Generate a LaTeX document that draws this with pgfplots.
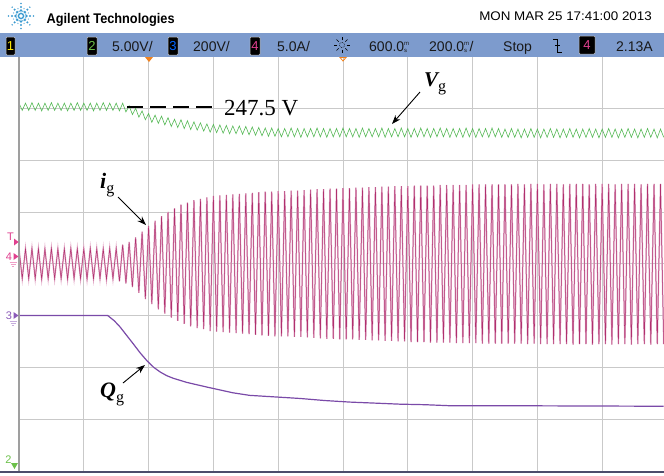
\documentclass[border=0pt]{standalone}
\usepackage{pgfplots}
\pgfplotsset{compat=1.18}
\usepackage{pgfplotstable}
\usepackage{graphicx}
\usepackage{fontspec}
\usetikzlibrary{arrows.meta}
\setmainfont{Liberation Sans}
\newfontfamily\serif{Liberation Serif}

\definecolor{barblue}{HTML}{7D9BCD}
\definecolor{vgreen}{HTML}{55B855}
\definecolor{imag}{HTML}{B0306E}
\definecolor{ipink}{HTML}{E4AECA}
\definecolor{qpurple}{HTML}{7A4AA8}
\definecolor{gridgray}{HTML}{C9C9C9}
\definecolor{trigorange}{HTML}{F0821E}
\definecolor{logoblue}{HTML}{3A9AD0}
\definecolor{markpink}{HTML}{E0408F}
\definecolor{markpurple}{HTML}{8A5AB8}
\definecolor{markgreen}{HTML}{6CC04A}

% channel 2: grid voltage (div)
\pgfplotstableread[row sep=\\]{
x y\\
0.00 7.10\\ 0.05 6.96\\ 0.10 7.10\\ 0.15 6.96\\ 0.20 7.11\\ 0.25 6.96\\ 0.30 7.10\\ 0.35 6.95\\ 0.40 7.10\\ 0.45 6.96\\
0.50 7.11\\ 0.55 6.96\\ 0.60 7.10\\ 0.65 6.96\\ 0.70 7.10\\ 0.75 6.95\\ 0.80 7.10\\ 0.85 6.96\\ 0.90 7.11\\ 0.95 6.96\\
1.00 7.10\\ 1.05 6.96\\ 1.10 7.10\\ 1.15 6.95\\ 1.20 7.10\\ 1.25 6.96\\ 1.30 7.11\\ 1.35 6.96\\ 1.40 7.10\\ 1.45 6.96\\
1.50 7.10\\ 1.55 6.95\\ 1.60 7.10\\ 1.65 6.93\\ 1.70 7.05\\ 1.75 6.88\\ 1.80 7.00\\ 1.85 6.83\\ 1.90 6.95\\ 1.95 6.78\\
2.00 6.90\\ 2.05 6.73\\ 2.10 6.87\\ 2.15 6.71\\ 2.20 6.85\\ 2.25 6.68\\ 2.30 6.82\\ 2.35 6.65\\ 2.40 6.79\\ 2.45 6.63\\
2.50 6.78\\ 2.55 6.61\\ 2.60 6.76\\ 2.65 6.59\\ 2.70 6.74\\ 2.75 6.58\\ 2.80 6.72\\ 2.85 6.56\\ 2.90 6.70\\ 2.95 6.54\\
3.00 6.69\\ 3.05 6.53\\ 3.10 6.68\\ 3.15 6.52\\ 3.20 6.67\\ 3.25 6.51\\ 3.30 6.66\\ 3.35 6.51\\ 3.40 6.66\\ 3.45 6.50\\
3.50 6.65\\ 3.55 6.49\\ 3.60 6.64\\ 3.65 6.48\\ 3.70 6.63\\ 3.75 6.47\\ 3.80 6.62\\ 3.85 6.46\\ 3.90 6.62\\ 3.95 6.46\\
4.00 6.61\\ 4.05 6.45\\ 4.10 6.61\\ 4.15 6.45\\ 4.20 6.62\\ 4.25 6.45\\ 4.30 6.61\\ 4.35 6.44\\ 4.40 6.61\\ 4.45 6.45\\
4.50 6.61\\ 4.55 6.45\\ 4.60 6.62\\ 4.65 6.45\\ 4.70 6.61\\ 4.75 6.44\\ 4.80 6.61\\ 4.85 6.45\\ 4.90 6.61\\ 4.95 6.45\\
5.00 6.62\\ 5.05 6.45\\ 5.10 6.61\\ 5.15 6.45\\ 5.20 6.61\\ 5.25 6.44\\ 5.30 6.62\\ 5.35 6.45\\ 5.40 6.61\\ 5.45 6.45\\
5.50 6.61\\ 5.55 6.45\\ 5.60 6.62\\ 5.65 6.44\\ 5.70 6.61\\ 5.75 6.45\\ 5.80 6.61\\ 5.85 6.45\\ 5.90 6.62\\ 5.95 6.45\\
6.00 6.61\\ 6.05 6.44\\ 6.10 6.61\\ 6.15 6.45\\ 6.20 6.62\\ 6.25 6.45\\ 6.30 6.61\\ 6.35 6.44\\ 6.40 6.61\\ 6.45 6.45\\
6.50 6.62\\ 6.55 6.45\\ 6.60 6.61\\ 6.65 6.44\\ 6.70 6.61\\ 6.75 6.45\\ 6.80 6.61\\ 6.85 6.44\\ 6.90 6.62\\ 6.95 6.45\\
7.00 6.61\\ 7.05 6.44\\ 7.10 6.61\\ 7.15 6.45\\ 7.20 6.61\\ 7.25 6.44\\ 7.30 6.62\\ 7.35 6.45\\ 7.40 6.61\\ 7.45 6.44\\
7.50 6.60\\ 7.55 6.44\\ 7.60 6.61\\ 7.65 6.44\\ 7.70 6.60\\ 7.75 6.43\\ 7.80 6.60\\ 7.85 6.44\\ 7.90 6.61\\ 7.95 6.44\\
8.00 6.60\\ 8.05 6.43\\ 8.10 6.60\\ 8.15 6.44\\ 8.20 6.61\\ 8.25 6.44\\ 8.30 6.60\\ 8.35 6.43\\ 8.40 6.60\\ 8.45 6.44\\
8.50 6.61\\ 8.55 6.44\\ 8.60 6.60\\ 8.65 6.43\\ 8.70 6.60\\ 8.75 6.44\\ 8.80 6.61\\ 8.85 6.44\\ 8.90 6.60\\ 8.95 6.43\\
9.00 6.60\\ 9.05 6.44\\ 9.10 6.61\\ 9.15 6.44\\ 9.20 6.60\\ 9.25 6.43\\ 9.30 6.60\\ 9.35 6.44\\ 9.40 6.61\\ 9.45 6.44\\
9.50 6.60\\ 9.55 6.43\\ 9.60 6.60\\ 9.65 6.44\\ 9.70 6.61\\ 9.75 6.44\\ 9.80 6.60\\ 9.85 6.43\\ 9.90 6.60\\ 9.95 6.44\\
}\vgdata

% channel 4: grid current (div)
\pgfplotstableread[row sep=\\]{
x y\\
0.00 4.29\\ 0.05 3.71\\ 0.10 4.29\\ 0.15 3.71\\ 0.20 4.30\\ 0.25 3.71\\ 0.30 4.29\\ 0.35 3.70\\ 0.40 4.29\\ 0.45 3.71\\
0.50 4.30\\ 0.55 3.71\\ 0.60 4.29\\ 0.65 3.71\\ 0.70 4.29\\ 0.75 3.70\\ 0.80 4.30\\ 0.85 3.71\\ 0.90 4.29\\ 0.95 3.71\\
1.00 4.29\\ 1.05 3.70\\ 1.10 4.30\\ 1.15 3.71\\ 1.20 4.29\\ 1.25 3.71\\ 1.30 4.29\\ 1.35 3.70\\ 1.40 4.30\\ 1.45 3.71\\
1.50 4.30\\ 1.55 3.66\\ 1.60 4.37\\ 1.65 3.62\\ 1.70 4.42\\ 1.75 3.55\\ 1.80 4.51\\ 1.85 3.44\\ 1.90 4.62\\ 1.95 3.32\\
2.00 4.73\\ 2.05 3.22\\ 2.10 4.83\\ 2.15 3.12\\ 2.20 4.92\\ 2.25 3.04\\ 2.30 5.00\\ 2.35 2.96\\ 2.40 5.07\\ 2.45 2.90\\
2.50 5.14\\ 2.55 2.84\\ 2.60 5.18\\ 2.65 2.79\\ 2.70 5.23\\ 2.75 2.76\\ 2.80 5.25\\ 2.85 2.74\\ 2.90 5.28\\ 2.95 2.70\\
3.00 5.31\\ 3.05 2.69\\ 3.10 5.32\\ 3.15 2.68\\ 3.20 5.33\\ 3.25 2.67\\ 3.30 5.34\\ 3.35 2.66\\ 3.40 5.35\\ 3.45 2.65\\
3.50 5.36\\ 3.55 2.64\\ 3.60 5.37\\ 3.65 2.63\\ 3.70 5.38\\ 3.75 2.62\\ 3.80 5.39\\ 3.85 2.61\\ 3.90 5.39\\ 3.95 2.60\\
4.00 5.40\\ 4.05 2.60\\ 4.10 5.40\\ 4.15 2.60\\ 4.20 5.41\\ 4.25 2.59\\ 4.30 5.41\\ 4.35 2.59\\ 4.40 5.42\\ 4.45 2.58\\
4.50 5.43\\ 4.55 2.57\\ 4.60 5.44\\ 4.65 2.56\\ 4.70 5.44\\ 4.75 2.55\\ 4.80 5.45\\ 4.85 2.55\\ 4.90 5.45\\ 4.95 2.54\\
5.00 5.46\\ 5.05 2.54\\ 5.10 5.46\\ 5.15 2.54\\ 5.20 5.47\\ 5.25 2.53\\ 5.30 5.47\\ 5.35 2.53\\ 5.40 5.48\\ 5.45 2.52\\
5.50 5.48\\ 5.55 2.52\\ 5.60 5.49\\ 5.65 2.51\\ 5.70 5.49\\ 5.75 2.51\\ 5.80 5.50\\ 5.85 2.50\\ 5.90 5.50\\ 5.95 2.50\\
6.00 5.50\\ 6.05 2.49\\ 6.10 5.51\\ 6.15 2.49\\ 6.20 5.51\\ 6.25 2.49\\ 6.30 5.51\\ 6.35 2.48\\ 6.40 5.51\\ 6.45 2.48\\
6.50 5.52\\ 6.55 2.48\\ 6.60 5.52\\ 6.65 2.48\\ 6.70 5.52\\ 6.75 2.47\\ 6.80 5.52\\ 6.85 2.47\\ 6.90 5.52\\ 6.95 2.47\\
7.00 5.53\\ 7.05 2.47\\ 7.10 5.53\\ 7.15 2.46\\ 7.20 5.53\\ 7.25 2.46\\ 7.30 5.53\\ 7.35 2.46\\ 7.40 5.53\\ 7.45 2.46\\
7.50 5.53\\ 7.55 2.46\\ 7.60 5.53\\ 7.65 2.46\\ 7.70 5.54\\ 7.75 2.46\\ 7.80 5.53\\ 7.85 2.45\\ 7.90 5.54\\ 7.95 2.46\\
8.00 5.54\\ 8.05 2.45\\ 8.10 5.53\\ 8.15 2.45\\ 8.20 5.54\\ 8.25 2.45\\ 8.30 5.54\\ 8.35 2.45\\ 8.40 5.53\\ 8.45 2.45\\
8.50 5.54\\ 8.55 2.44\\ 8.60 5.54\\ 8.65 2.45\\ 8.70 5.54\\ 8.75 2.45\\ 8.80 5.53\\ 8.85 2.44\\ 8.90 5.54\\ 8.95 2.45\\
9.00 5.54\\ 9.05 2.45\\ 9.10 5.54\\ 9.15 2.44\\ 9.20 5.53\\ 9.25 2.45\\ 9.30 5.54\\ 9.35 2.45\\ 9.40 5.54\\ 9.45 2.44\\
9.50 5.54\\ 9.55 2.45\\ 9.60 5.53\\ 9.65 2.45\\ 9.70 5.54\\ 9.75 2.44\\ 9.80 5.54\\ 9.85 2.45\\ 9.90 5.54\\ 9.95 2.45\\
}\igdata

% channel 3: reactive power (div)
\pgfplotstableread[row sep=\\]{
x y\\
0.00 3.00\\ 1.37 3.00\\ 1.47 2.90\\ 1.56 2.78\\ 1.66 2.62\\ 1.76 2.46\\ 1.87 2.28\\ 1.98 2.12\\ 2.08 2.00\\ 2.18 1.91\\
2.28 1.84\\ 2.38 1.79\\ 2.59 1.71\\ 2.90 1.62\\ 3.30 1.51\\ 3.56 1.46\\ 3.95 1.43\\ 4.34 1.40\\ 4.72 1.36\\ 5.11 1.33\\
5.50 1.31\\ 5.88 1.29\\ 6.26 1.28\\ 6.65 1.26\\ 7.50 1.26\\ 9.95 1.25\\
}\qgdata

\tikzset{
  bartext/.style={anchor=base west, inner sep=0pt, text=black!90, font=\fontsize{14}{16}\selectfont},
  chbox/.style={draw=gray!45, fill=black, rounded corners=1pt, line width=0.5pt},
}
% stacked "ms" unit as shown in the status bar
\newcommand{\unitms}{{\fontsize{6}{6}\selectfont\rlap{\raisebox{5.8pt}{m}}\raisebox{-1.2pt}{s}\hspace{2.4pt}}}

\begin{document}
\begin{tikzpicture}
\useasboundingbox (0pt,0pt) rectangle (664pt,-475pt);

\begin{axis}[
  at={(19pt,-471pt)}, anchor=south west,
  scale only axis, width=645pt, height=414.5pt,
  xmin=0, xmax=9.954, ymin=0, ymax=8,
  xtick={1,...,9}, ytick={1,...,7},
  xticklabels={}, yticklabels={},
  major tick length=0pt,
  grid=major, grid style={gridgray, line width=0.9pt},
  axis line style={draw=none},
]
\addplot[vgreen, line width=0.6pt] table[x=x, y=y] {\vgdata};
\addplot[ipink, line width=1.5pt] table[x=x, y=y] {\igdata};
\addplot[imag, line width=0.5pt] table[x=x, y=y] {\igdata};
\addplot[qpurple, line width=1.2pt] table[x=x, y=y] {\qgdata};
\end{axis}

% screen borders
\draw[gray!75, line width=1.1pt] (19pt,-57pt) -- (19pt,-471pt);
\draw[black!70!blue!40!gray, line width=2pt] (0pt,-471.5pt) -- (664pt,-471.5pt);

% header
\foreach \a in {0,45,...,315} {
  \foreach \r/\s in {2.5/1.2, 5.5/1.4, 9/1.2, 12.5/0.8} {
    \fill[logoblue, shift={(21pt,-16pt)}] (\a:\r pt) circle (\s pt);
  }
}
\foreach \a in {22.5,67.5,...,337.5} {
  \foreach \r/\s in {5/0.8, 8/0.7} {
    \fill[logoblue!70, shift={(21pt,-16pt)}] (\a:\r pt) circle (\s pt);
  }
}
\node[anchor=base west, inner sep=0pt, font=\fontsize{14}{16}\selectfont\bfseries] at (46.5pt,-23pt) {\scalebox{0.91}[1]{Agilent Technologies}};
\node[anchor=base east, inner sep=0pt, font=\fontsize{12.5}{14}\selectfont] at (652pt,-20.7pt) {\scalebox{1.07}[1]{MON MAR 25 17:41:00 2013}};

% status bar
\fill[barblue] (0pt,-33pt) rectangle (664pt,-57pt);
\draw[chbox] (6pt,-37pt) rectangle (15pt,-55pt);
\node[text=yellow!90!orange, font=\fontsize{13}{13}\selectfont] at (10.5pt,-46pt) {1};
\draw[chbox] (87pt,-37pt) rectangle (97pt,-55pt);
\node[text=markgreen, font=\fontsize{13}{13}\selectfont] at (92pt,-46pt) {2};
\node[bartext] at (112pt,-51pt) {5.00V/};
\draw[chbox] (168pt,-37pt) rectangle (178pt,-55pt);
\node[text=blue!60!cyan, font=\fontsize{13}{13}\selectfont] at (173pt,-46pt) {3};
\node[bartext] at (193pt,-51pt) {200V/};
\draw[chbox] (250pt,-37pt) rectangle (260pt,-55pt);
\node[text=markpink, font=\fontsize{13}{13}\selectfont] at (255pt,-46pt) {4};
\node[bartext] at (277pt,-51pt) {5.0A/};
% delay icon
\draw[black, line width=0.6pt, densely dotted] (342pt,-45pt) circle (2.6pt);
\foreach \a in {0,45,...,315} {
  \draw[black, line width=0.6pt, shift={(342pt,-45pt)}] (\a:4.6pt) -- (\a:7.8pt);
}
\node[bartext] at (369pt,-51pt) {600.0\unitms};
\node[bartext] at (429pt,-51pt) {200.0\unitms/};
\node[bartext] at (503pt,-51pt) {Stop};
% falling-edge trigger symbol
\draw[black, line width=0.8pt] (553pt,-39pt) -- (557.5pt,-39pt) -- (557.5pt,-52pt) -- (562pt,-52pt);
\draw[black, line width=0.8pt] (555pt,-45.5pt) -- (560pt,-45.5pt);
\draw[chbox] (579pt,-36pt) rectangle (595pt,-54pt);
\node[text=markpink, font=\fontsize{13}{13}\selectfont] at (587pt,-45pt) {4};
\node[bartext] at (616pt,-51pt) {2.13A};

% trigger and delay markers
\fill[trigorange] (145pt,-57pt) -- (153pt,-57pt) -- (149pt,-62pt) -- cycle;
\draw[trigorange, line width=0.8pt] (340pt,-57.5pt) -- (346pt,-57.5pt) -- (343pt,-61pt) -- cycle;

% channel reference markers
\node[anchor=base, inner sep=0pt, text=markpink, font=\fontsize{11}{11}\selectfont] at (10.5pt,-240pt) {T};
\fill[markpink] (14pt,-238.5pt) -- (18.5pt,-242pt) -- (14pt,-245.5pt) -- cycle;
\node[anchor=base, inner sep=0pt, text=markpink, font=\fontsize{11}{11}\selectfont] at (9pt,-260.5pt) {4};
\fill[markpink] (13.5pt,-253pt) -- (18.5pt,-256.5pt) -- (13.5pt,-260pt) -- cycle;
\draw[markpink!50, line width=0.7pt] (9.5pt,-262pt) -- (16.5pt,-262pt) (10.5pt,-264.2pt) -- (15.5pt,-264.2pt) (11.8pt,-266.4pt) -- (14.2pt,-266.4pt);
\node[anchor=base, inner sep=0pt, text=markpurple, font=\fontsize{11}{11}\selectfont] at (9pt,-319.5pt) {3};
\fill[markpurple] (13.5pt,-312pt) -- (18.5pt,-315.5pt) -- (13.5pt,-319pt) -- cycle;
\draw[markpurple!50, line width=0.7pt] (9.5pt,-321pt) -- (16.5pt,-321pt) (10.5pt,-323.2pt) -- (15.5pt,-323.2pt) (11.8pt,-325.4pt) -- (14.2pt,-325.4pt);
\node[anchor=base, inner sep=0pt, text=markgreen, font=\fontsize{11}{11}\selectfont] at (8.5pt,-463pt) {2};
\fill[markgreen] (11pt,-463pt) -- (18pt,-463pt) -- (14.5pt,-469pt) -- cycle;

% annotations
\draw[black, line width=2pt, dash pattern=on 16pt off 7pt] (127pt,-107pt) -- (216pt,-107pt);
\node[anchor=base west, inner sep=0pt, font=\fontsize{23}{24}\serif] at (224pt,-115pt) {247.5 V};

\node[anchor=base west, inner sep=0pt] at (424pt,-86pt) {\fontsize{21}{22}\serif\bfseries\itshape V\fontsize{16}{16}\selectfont\mdseries\upshape\raisebox{-5pt}{g}};
\draw[-{Stealth[length=9pt,width=6.5pt]}, line width=0.9pt] (420pt,-92pt) -- (392pt,-124pt);

\node[anchor=base west, inner sep=0pt] at (100pt,-188pt) {\fontsize{22}{22}\serif\bfseries\itshape i\fontsize{16}{16}\selectfont\mdseries\upshape\raisebox{-5pt}{g}};
\draw[-{Stealth[length=9pt,width=6.5pt]}, line width=0.9pt] (118pt,-197pt) -- (146pt,-225pt);

\node[anchor=base west, inner sep=0pt] at (100pt,-397pt) {\fontsize{22}{22}\serif\bfseries\itshape Q\fontsize{16}{16}\selectfont\mdseries\upshape\raisebox{-5pt}{g}};
\draw[-{Stealth[length=9pt,width=6.5pt]}, line width=0.9pt] (123pt,-383pt) -- (145pt,-365pt);
\end{tikzpicture}
\end{document}
